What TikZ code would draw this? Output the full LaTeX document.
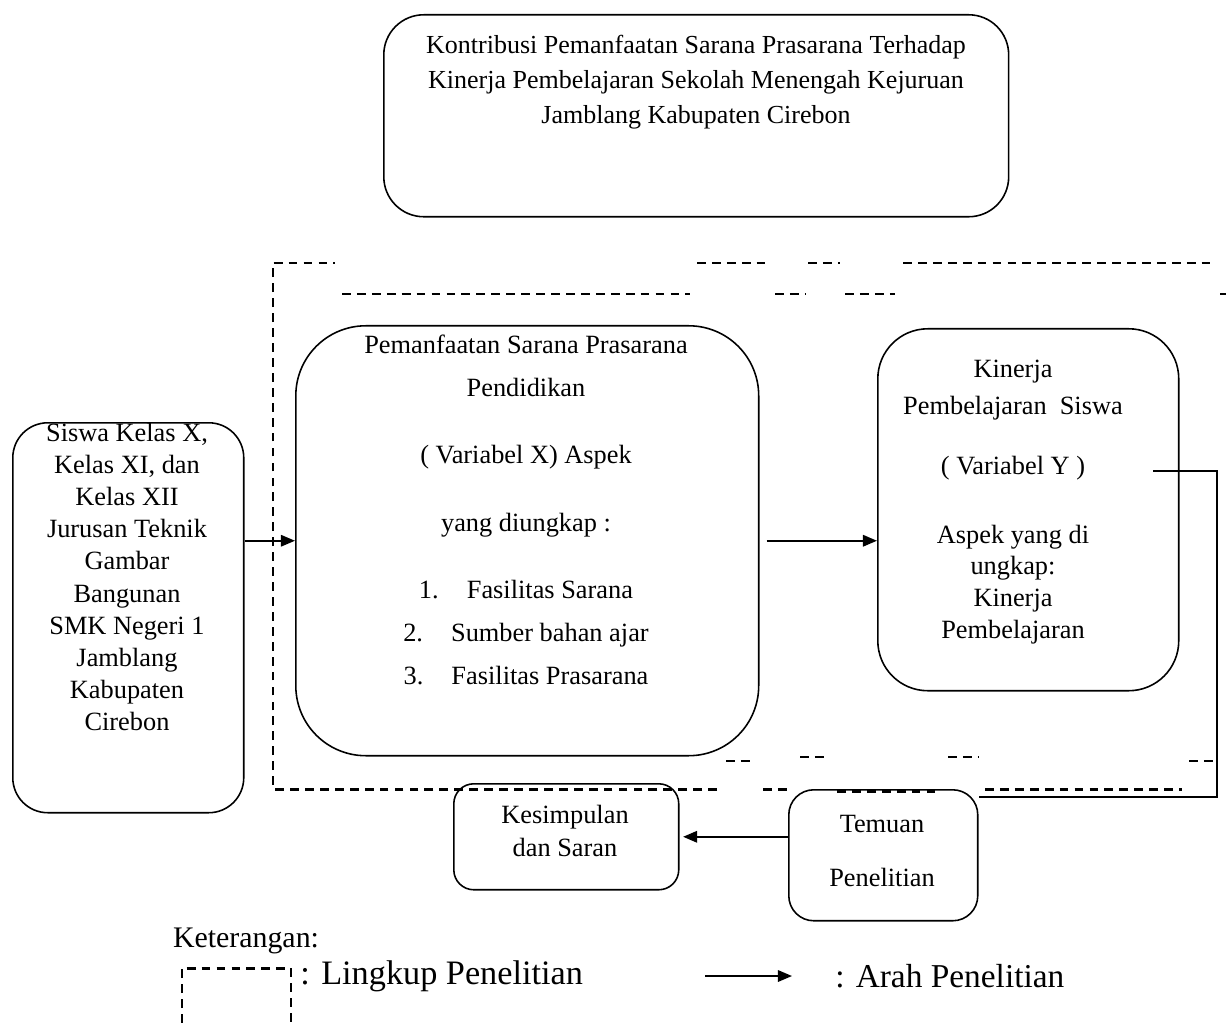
\documentclass[tikz,border=0pt]{standalone}
\usepackage{fontspec}
\setmainfont{Liberation Serif}
\usetikzlibrary{positioning}
\usetikzlibrary{arrows.meta}

\tikzset{
    kotak/.style={draw, line width=0.9pt, rounded corners=#1, inner sep=0pt},
    teks/.style={align=center, inner sep=0pt, font=\fontsize{15}{18.3}\selectfont},
    panah/.style={line width=1.1pt, -{Triangle[length=8pt, width=6.5pt]}},
    garis/.style={line width=1.1pt},
    lingkup/.style={line width=1.7pt, dash pattern=on 5pt off 3.5pt},
}

\begin{document}
\begin{tikzpicture}[x=0.02cm, y=-0.02cm]
    \useasboundingbox (0,0) rectangle (1226,1023);

    \node[kotak=0.8cm, minimum width=12.5cm, minimum height=4.04cm, anchor=north west] (judul) at (383,14) {};
    \node[teks, font=\fontsize{14.8}{19.9}\selectfont] (judulTeks) at (696,82)
        {Kontribusi Pemanfaatan Sarana Prasarana Terhadap\\Kinerja Pembelajaran Sekolah Menengah Kejuruan\\Jamblang Kabupaten Cirebon};

    \node[kotak=0.7cm, minimum width=4.62cm, minimum height=7.8cm, anchor=north west] (siswa) at (12,422) {};
    \node[teks] (siswaTeks) at (127,577)
        {Siswa Kelas X,\\Kelas XI, dan\\Kelas XII\\Jurusan Teknik\\Gambar\\Bangunan\\SMK Negeri 1\\Jamblang\\Kabupaten\\Cirebon};

    \node[kotak=1.4cm, minimum width=9.26cm, minimum height=8.6cm, anchor=north west] (sarana) at (295,325) {};
    \node[teks, font=\fontsize{15}{24.4}\selectfont] (saranaTeks) at (526,510)
        {Pemanfaatan Sarana Prasarana\\Pendidikan\\[14pt]( Variabel X) Aspek\\[14pt]yang diungkap :\\[14pt]%
         1.\hspace{16pt}Fasilitas Sarana\\2.\hspace{16pt}Sumber bahan ajar\\3.\hspace{16pt}Fasilitas Prasarana};

    \node[kotak=1cm, minimum width=6.02cm, minimum height=7.24cm, anchor=north west] (kinerja) at (877,328) {};
    \node[teks, font=\fontsize{15}{18.1}\selectfont] (kinerjaTeks) at (1013,502)
        {Kinerja\\[3pt]Pembelajaran\ \ Siswa\\[16pt]( Variabel Y )\\[21pt]Aspek yang di\\ungkap:\\Kinerja\\Pembelajaran};

    \node[kotak=0.4cm, minimum width=4.5cm, minimum height=2.12cm, anchor=north west] (kesimpulan) at (453,783) {};
    \node[teks, font=\fontsize{15}{18.7}\selectfont] (kesimpulanTeks) at (565,831) {Kesimpulan\\dan Saran};

    \node[kotak=0.5cm, minimum width=3.78cm, minimum height=2.62cm, anchor=north west] (temuan) at (788,789) {};
    \node[teks, font=\fontsize{15}{31.2}\selectfont] (temuanTeks) at (882,851) {Temuan\\Penelitian};

    \draw[panah] (siswa.east |- sarana.west) -- (sarana.west);
    \draw[panah] ([xshift=4pt]sarana.east) -- (sarana.east -| kinerja.west);
    \draw[panah] (temuan.west |- kesimpulan.east) -- ([xshift=2pt]kesimpulan.east);
    \coordinate (keluar) at (1153,471);
    \draw[garis] (keluar) -- ++(64,0) |- ([yshift=-4.5pt]temuan.north east);

    \draw[lingkup] (717,789) -- (273,789) -- (273,263) -- (335,263);
    \draw[lingkup] (697,263) -- (765,263);
    \draw[lingkup] (808,263) -- (840,263);
    \draw[lingkup] (903,263) -- (1212,263);
    \draw[lingkup] (342,294) -- (690,294);
    \draw[lingkup] (775,294) -- (805,294);
    \draw[lingkup] (845,294) -- (895,294);
    \draw[lingkup] (1220,294) -- (1226,294);
    \draw[lingkup] (726,761) -- (755,761);
    \draw[lingkup] (800,757) -- (829,757);
    \draw[lingkup] (948,757) -- (978,757);
    \draw[lingkup] (1189,761) -- (1218,761);
    \draw[lingkup] (763,789) -- (792,789);
    \draw[lingkup] (837,791) -- (940,791);
    \draw[lingkup] (985,789) -- (1182,789);

    \node[teks, font=\fontsize{17}{20}\selectfont] (keterangan) at (246,941) {Keterangan:};
    \draw[lingkup] (182,1023) -- (182,968) -- (291,968) -- (291,1023);
    \node[teks, font=\fontsize{19.5}{22}\selectfont, anchor=west] (lingkupTeks) at (300,976) {: Lingkup Penelitian};
    \coordinate (arahA) at (705,976);
    \coordinate (arahB) at (792,976);
    \draw[panah] (arahA) -- (arahB);
    \node[teks, font=\fontsize{19}{22}\selectfont, anchor=west] (arahTeks) at (835,976) {: Arah Penelitian};
\end{tikzpicture}
\end{document}
